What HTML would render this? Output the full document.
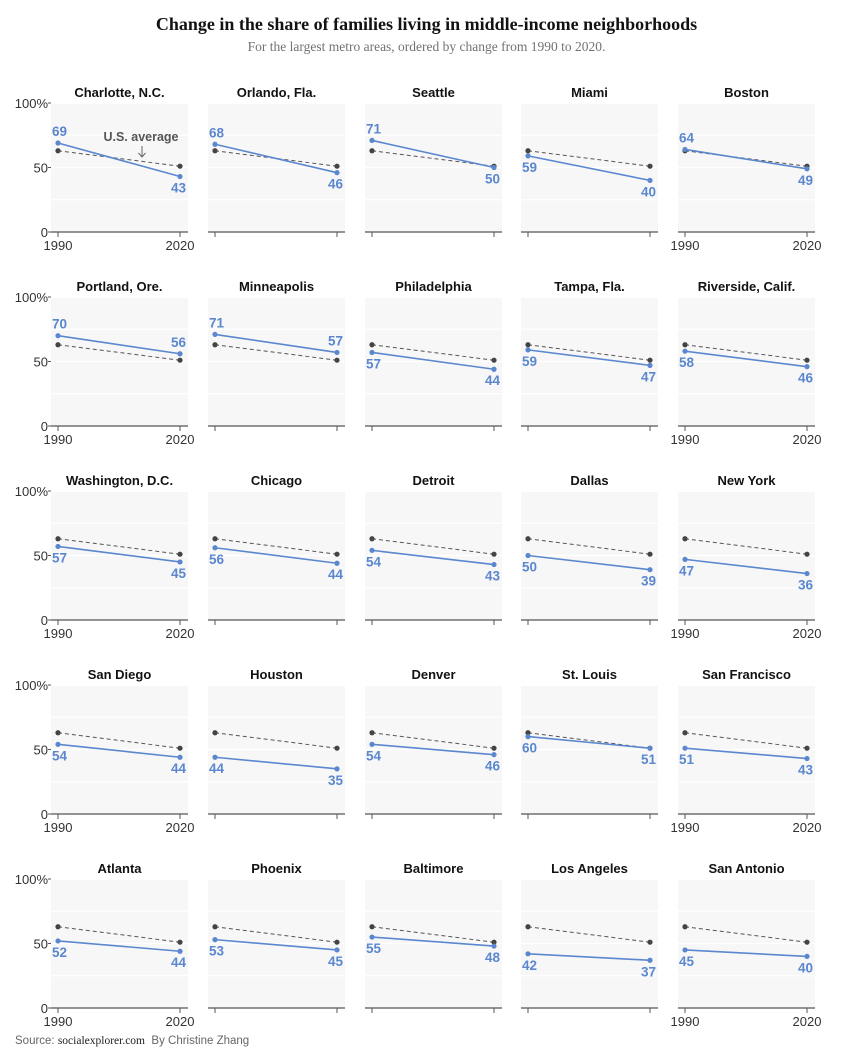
<!DOCTYPE html>
<html><head><meta charset="utf-8"><style>
body{margin:0;background:#fff;width:853px;height:1056px;overflow:hidden;font-family:"Liberation Sans",sans-serif}
#t{position:absolute;top:14px;left:0;width:853px;text-align:center;font-family:"Liberation Serif",serif;font-weight:bold;font-size:18px;color:#121212}
#s{position:absolute;top:39px;left:0;width:853px;text-align:center;font-family:"Liberation Serif",serif;font-size:13.5px;color:#727272}
#src{position:absolute;top:1035px;left:15px;font-size:11.5px;color:#666}
</style></head><body>
<div id="t">Change in the share of families living in middle-income neighborhoods</div>
<div id="s">For the largest metro areas, ordered by change from 1990 to 2020.</div>
<svg id="c" width="853" height="1056" style="position:absolute;left:0;top:0"></svg>
<div id="src">Source: <span style="font-family:'Liberation Serif',serif;color:#222">socialexplorer.com</span>&nbsp; By Christine Zhang</div>
<script>
const cities=["Charlotte, N.C.","Orlando, Fla.","Seattle","Miami","Boston","Portland, Ore.","Minneapolis","Philadelphia","Tampa, Fla.","Riverside, Calif.","Washington, D.C.","Chicago","Detroit","Dallas","New York","San Diego","Houston","Denver","St. Louis","San Francisco","Atlanta","Phoenix","Baltimore","Los Angeles","San Antonio"];
const v1990=[69,68,71,59,64,70,71,57,59,58,57,56,54,50,47,54,44,54,60,51,52,53,55,42,45];
const v2020=[43,46,50,40,49,56,57,44,47,46,45,44,43,39,36,44,35,46,51,43,44,45,48,37,40];
const usAvg=[63,51];
const yTicks=[0,50,100];
const xTicks=["1990","2020"];
const svg=document.getElementById('c');const NS="http://www.w3.org/2000/svg";
function mk(t,a,p){const e=document.createElementNS(NS,t);for(const k in a)e.setAttribute(k,a[k]);(p||svg).appendChild(e);return e;}
const colX=[51,208,365,521,678],PW=137,rowTop=[103,297,491,685,879],PH=129;
cities.forEach((c,i)=>{
 const r=Math.floor(i/5),col=i%5,x0=colX[col],y0=rowTop[r];
 const g=mk('g',{});
 
 
 const ys=v=>y0+PH-v/100*PH, xs=k=>k==0?x0+7:x0+PW-8;
 const bg=mk('rect',{x:x0,y:y0+1,width:PW,height:PH-1,fill:'#f7f7f7'},g);
 
 [25,50,75].forEach(v=>{const l=mk('line',{x1:x0,x2:x0+PW,y1:ys(v),y2:ys(v),stroke:'#fff','stroke-width':1.2},g);});
 const ax=mk('line',{x1:x0,x2:x0+PW,y1:y0+PH,y2:y0+PH,stroke:'#555','stroke-width':1.3},g);
 
 [0,1].forEach(k=>{const t=mk('line',{x1:xs(k),x2:xs(k),y1:y0+PH,y2:y0+PH+5,stroke:'#555'},g);
  if(col==0||col==4){const tl=mk('text',{x:xs(k),y:y0+PH+18,'text-anchor':'middle','font-size':13,fill:'#333'},g);tl.textContent=xTicks[k];}});
 if(col==0){yTicks.forEach(v=>{const tl=mk('text',{x:x0-3,y:ys(v)+5,'text-anchor':'end','font-size':13,fill:'#333'},g);tl.textContent=v==100?'100%':v;
  const tk=mk('line',{x1:x0-3,x2:x0,y1:ys(v),y2:ys(v),stroke:'#555'},g);});}
 const tt=mk('text',{x:x0+PW/2,y:y0-6,'text-anchor':'middle','font-size':13,'font-weight':'bold',fill:'#121212'},g);tt.textContent=c;
 
 const ul=mk('line',{x1:xs(0),x2:xs(1),y1:ys(usAvg[0]),y2:ys(usAvg[1]),stroke:'#555','stroke-width':1,'stroke-dasharray':'4,3'},g);
 
 [0,1].forEach(k=>{const d=mk('circle',{cx:xs(k),cy:ys(usAvg[k]),r:2.6,fill:'#444'},g);});
 const vals=[v1990[i],v2020[i]];
 const ml=mk('line',{x1:xs(0),x2:xs(1),y1:ys(vals[0]),y2:ys(vals[1]),stroke:'#5b87cf','stroke-width':1.6},g);
 
 [0,1].forEach(k=>{const d=mk('circle',{cx:xs(k),cy:ys(vals[k]),r:2.6,fill:'#5b87cf'},g);
  const above=vals[k]>usAvg[k];
  const lb=mk('text',{x:k==0?xs(0)-6:xs(1)+6,y:above?ys(vals[k])-7:ys(vals[k])+16,'text-anchor':k==0?'start':'end','font-size':13.5,'font-weight':'bold',fill:'#5b87cf'},g);
  lb.textContent=vals[k];});
 if(i==0){const a=mk('text',{x:141,y:141,'text-anchor':'middle','font-size':12.5,'font-weight':'bold',fill:'#555'},g);a.textContent='U.S. average';
  const ar=mk('path',{d:'M142 146 V157 M138.5 153 L142 157 L145.5 153',stroke:'#666',fill:'none','stroke-width':1},g);}
});
</script>
</body></html>
